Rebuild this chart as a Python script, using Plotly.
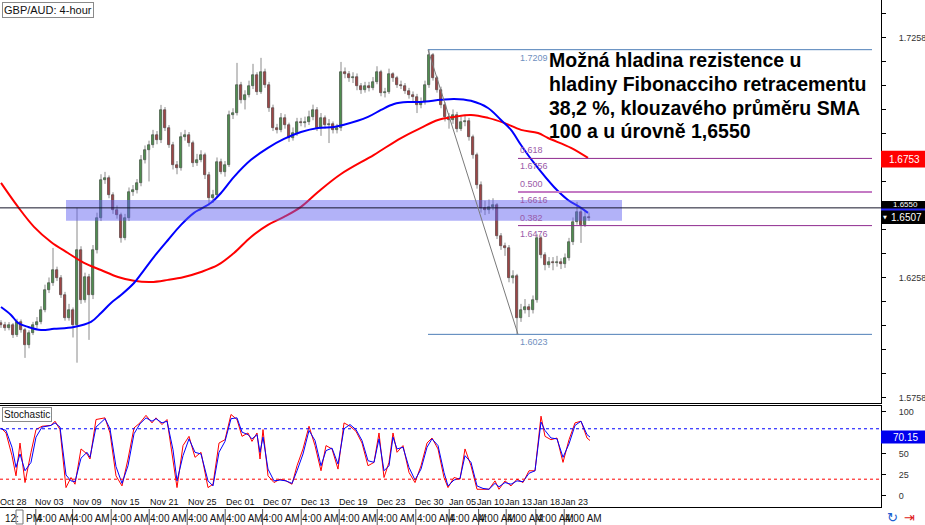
import plotly.graph_objects as go

# ---------------- data ----------------
first_open = 1.6070
closes = [1.6062, 1.6050, 1.6062, 1.6021, 1.6075, 1.6041, 1.5979, 1.6029, 1.6062, 1.6075,
          1.6125, 1.6208, 1.6237, 1.6291, 1.6258, 1.6187, 1.6091, 1.6125, 1.6062, 1.6375,
          1.6166, 1.6262, 1.6187, 1.6375, 1.6508, 1.6666, 1.6675, 1.6604, 1.6541, 1.6521,
          1.6425, 1.6508, 1.6616, 1.6625, 1.6654, 1.6750, 1.6791, 1.6812, 1.6854, 1.6833,
          1.6958, 1.6883, 1.6812, 1.6729, 1.6716, 1.6845, 1.6854, 1.6820, 1.6737, 1.6750,
          1.6770, 1.6687, 1.6591, 1.6604, 1.6741, 1.6700, 1.6729, 1.6937, 1.6945, 1.7062,
          1.7000, 1.7020, 1.7058, 1.7104, 1.7033, 1.7116, 1.7062, 1.6966, 1.6883, 1.6875,
          1.6925, 1.6896, 1.6841, 1.6862, 1.6908, 1.6904, 1.6908, 1.6929, 1.6958, 1.6883,
          1.6925, 1.6896, 1.6900, 1.6875, 1.6883, 1.7116, 1.7108, 1.7091, 1.7096, 1.7058,
          1.7041, 1.7058, 1.7050, 1.7075, 1.7116, 1.7029, 1.7033, 1.7108, 1.7091, 1.7062,
          1.7058, 1.7037, 1.7020, 1.7012, 1.6979, 1.6991, 1.7062, 1.7187, 1.7091, 1.7041,
          1.6979, 1.6929, 1.6916, 1.6937, 1.6879, 1.6908, 1.6912, 1.6845, 1.6770, 1.6646,
          1.6550, 1.6541, 1.6554, 1.6562, 1.6433, 1.6391, 1.6383, 1.6258, 1.6265, 1.6091,
          1.6125, 1.6137, 1.6125, 1.6166, 1.6425, 1.6354, 1.6312, 1.6325, 1.6320, 1.6325,
          1.6316, 1.6341, 1.6408, 1.6491, 1.6533, 1.6479, 1.6512, 1.6508]
highs = [1.6082, 1.6075, 1.6074, 1.6070, 1.6088, 1.6085, 1.6050, 1.6040, 1.6075, 1.6095,
         1.6140, 1.6230, 1.6260, 1.6383, 1.6305, 1.6270, 1.6200, 1.6150, 1.6135, 1.6550,
         1.6390, 1.6280, 1.6275, 1.6395, 1.6530, 1.6690, 1.6700, 1.6685, 1.6615, 1.6560,
         1.6530, 1.6525, 1.6635, 1.6645, 1.6670, 1.6770, 1.6810, 1.6830, 1.6875, 1.6870,
         1.6979, 1.6970, 1.6895, 1.6825, 1.6745, 1.6865, 1.6875, 1.6866, 1.6830, 1.6775,
         1.6790, 1.6780, 1.6700, 1.6625, 1.6760, 1.6755, 1.6745, 1.6955, 1.6965, 1.7154,
         1.7075, 1.7040, 1.7080, 1.7150, 1.7115, 1.7175, 1.7130, 1.7075, 1.6980, 1.6900,
         1.6945, 1.6940, 1.6905, 1.6885, 1.6925, 1.6925, 1.6930, 1.6955, 1.6980, 1.6970,
         1.6945, 1.6935, 1.6920, 1.6910, 1.6900, 1.7158, 1.7135, 1.7120, 1.7115, 1.7110,
         1.7070, 1.7075, 1.7075, 1.7095, 1.7140, 1.7125, 1.7050, 1.7130, 1.7115, 1.7100,
         1.7080, 1.7070, 1.7050, 1.7035, 1.7025, 1.7010, 1.7080, 1.7209, 1.7195, 1.7100,
         1.7055, 1.6990, 1.6945, 1.6960, 1.6950, 1.6930, 1.6935, 1.6925, 1.6855, 1.6780,
         1.6660, 1.6580, 1.6585, 1.6590, 1.6570, 1.6445, 1.6405, 1.6395, 1.6290, 1.6275,
         1.6150, 1.6170, 1.6150, 1.6185, 1.6440, 1.6435, 1.6365, 1.6345, 1.6345, 1.6350,
         1.6340, 1.6360, 1.6425, 1.6510, 1.6575, 1.6545, 1.6540, 1.6530]
lows = [1.6050, 1.6038, 1.6040, 1.6008, 1.6012, 1.6030, 1.5925, 1.5965, 1.6020, 1.6050,
        1.6065, 1.6115, 1.6195, 1.6225, 1.6245, 1.6175, 1.6080, 1.6080, 1.6010, 1.5905,
        1.6150, 1.6155, 1.6000, 1.6170, 1.6360, 1.6495, 1.6650, 1.6590, 1.6525, 1.6505,
        1.6405, 1.6415, 1.6495, 1.6600, 1.6610, 1.6640, 1.6735, 1.6660, 1.6800, 1.6815,
        1.6820, 1.6870, 1.6800, 1.6710, 1.6690, 1.6705, 1.6830, 1.6805, 1.6720, 1.6725,
        1.6740, 1.6670, 1.6560, 1.6570, 1.6595, 1.6690, 1.6680, 1.6720, 1.6920, 1.6935,
        1.6985, 1.6960, 1.7010, 1.7045, 1.7020, 1.7025, 1.7050, 1.6950, 1.6870, 1.6860,
        1.6865, 1.6880, 1.6825, 1.6830, 1.6850, 1.6890, 1.6885, 1.6895, 1.6915, 1.6870,
        1.6850, 1.6880, 1.6820, 1.6860, 1.6860, 1.6870, 1.7090, 1.7075, 1.7070, 1.7040,
        1.7025, 1.7030, 1.7035, 1.7040, 1.7065, 1.7015, 1.7010, 1.7025, 1.7075, 1.7050,
        1.7045, 1.7025, 1.7005, 1.6995, 1.6945, 1.6965, 1.6980, 1.7050, 1.7080, 1.7030,
        1.6965, 1.6910, 1.6880, 1.6900, 1.6865, 1.6870, 1.6890, 1.6830, 1.6755, 1.6630,
        1.6530, 1.6520, 1.6525, 1.6540, 1.6420, 1.6375, 1.6350, 1.6240, 1.6235, 1.6023,
        1.6075, 1.6110, 1.6095, 1.6110, 1.6155, 1.6340, 1.6290, 1.6300, 1.6290, 1.6305,
        1.6295, 1.6300, 1.6330, 1.6395, 1.6480, 1.6404, 1.6470, 1.6495]

sma100_bar = [0, 2.5, 4.25, 6.75, 10, 13.25, 18.25, 22.5, 25, 27.5, 30, 33.25, 35.75, 38.25,
              41.75, 45, 48.25, 50, 52.5, 55, 58.25, 62.5, 66.75, 70.75, 75, 79.25, 83.25,
              85.75, 91.75, 95, 98.25, 101.75, 105, 110, 113.25, 117.5, 121.75, 125, 127.5,
              130, 133.25, 138.25, 141.75, 145, 146.75]
sma100_val = [1.6137, 1.6104, 1.6071, 1.6054, 1.6041, 1.6046, 1.6054, 1.6075, 1.6112, 1.6154,
              1.6187, 1.6237, 1.6291, 1.6346, 1.6416, 1.6479, 1.6529, 1.6546, 1.6571, 1.6612,
              1.6679, 1.6750, 1.6800, 1.6837, 1.6866, 1.6883, 1.6887, 1.6896, 1.6929, 1.6958,
              1.6983, 1.6991, 1.6991, 1.7000, 1.7004, 1.6996, 1.6966, 1.6916, 1.6875, 1.6812,
              1.6737, 1.6637, 1.6583, 1.6550, 1.6529]
sma200_bar = [0, 4.25, 8.25, 12.5, 16.75, 20.75, 25, 29.25, 33.25, 37.5, 41.75, 45.75, 50,
              54.25, 58.25, 62.5, 66.75, 70.75, 75, 79.25, 85, 93.25, 100, 105, 109.25,
              113.25, 117.5, 121.75, 125.75, 130, 134.25, 136.75, 142.5, 146.75]
sma200_val = [1.6654, 1.6554, 1.6471, 1.6408, 1.6362, 1.6321, 1.6291, 1.6262, 1.6246, 1.6241,
              1.6250, 1.6262, 1.6283, 1.6312, 1.6362, 1.6429, 1.6479, 1.6512, 1.6554, 1.6616,
              1.6691, 1.6771, 1.6841, 1.6883, 1.6916, 1.6929, 1.6937, 1.6925, 1.6904, 1.6875,
              1.6862, 1.6841, 1.6800, 1.6758]

stoch_bar = [0, 1.25, 2.75, 3.75, 4.75, 6, 7.5, 8.75, 10.25, 12.5, 13.5, 14.75, 16.25, 17.5,
             18.5, 20, 21.5, 22.25, 23.75, 26, 27.25, 28.75, 30.25, 31.75, 33.25, 34.75,
             36.25, 37.75, 38.75, 40.25, 41.5, 43, 44, 45.5, 47, 48.5, 50, 51.75, 53, 54.5,
             56, 57.5, 59, 60.25, 61.75, 62.75, 64, 64.75, 65.5, 66.75, 68.25, 69.75, 71.25,
             72.75, 74, 75.5, 77, 78.5, 80, 81.25, 82.75, 84.25, 85.75, 87.25, 88.75, 90.25,
             91.75, 93.25, 94.5, 95.75, 97, 98, 99, 100.5, 102, 103.5, 105, 106.5, 107.75,
             109.25, 110.75, 111.75, 113.25, 114.75, 116, 117.5, 119, 120.5, 122, 123.5,
             124.5, 126, 127.5, 129, 130.5, 132, 133.5, 135, 136, 137.5, 139, 140.5, 142,
             143.5, 145, 146.5, 147.25]
stoch_main = [81, 75, 48, 24, 63, 16, 52, 79, 83, 84, 89, 79, 10, 22, 14, 56, 50, 44, 91, 93,
              75, 24, 12, 44, 81, 87, 96, 87, 93, 85, 91, 44, 10, 60, 71, 46, 52, 10, 14, 63,
              67, 97, 91, 71, 75, 65, 75, 44, 79, 24, 16, 20, 18, 14, 36, 56, 83, 60, 30, 60,
              56, 32, 87, 83, 77, 63, 36, 40, 75, 22, 40, 75, 52, 60, 28, 16, 36, 63, 69, 56,
              22, 10, 22, 20, 56, 36, 8, 8, 8, 18, 8, 18, 12, 20, 16, 30, 30, 95, 71, 67,
              69, 40, 67, 87, 89, 69, 66]
stoch_signal = [80, 78, 58, 34, 50, 30, 40, 70, 82, 84, 87, 82, 25, 18, 17, 45, 52, 46, 82, 92,
                80, 35, 15, 36, 74, 86, 93, 89, 92, 87, 89, 55, 18, 48, 68, 52, 50, 18, 12, 52,
                65, 92, 93, 76, 73, 68, 73, 52, 70, 32, 18, 19, 18, 15, 30, 50, 78, 66, 36, 54,
                57, 38, 80, 85, 79, 66, 42, 40, 68, 30, 36, 70, 56, 58, 34, 19, 32, 58, 68, 60,
                28, 12, 19, 21, 48, 40, 12, 9, 8, 15, 11, 16, 14, 18, 17, 27, 30, 88, 78, 69,
                68, 46, 62, 84, 89, 73, 70.15]

date_labels = ["Oct 28", "Nov 03", "Nov 09", "Nov 15", "Nov 21", "Nov 25", "Dec 01", "Dec 07",
               "Dec 13", "Dec 19", "Dec 23", "Dec 30", "Jan 05", "Jan 10", "Jan 13", "Jan 18",
               "Jan 23"]
date_pos = [3, 12, 21.5, 31, 40.75, 50.25, 59.75, 69, 78.5, 88, 97.5, 107, 115.25, 122.25,
            129.25, 136.25, 143.25]
hour_pos = [8.9, 18.1, 27.75, 37.25, 46.75, 56.25, 65.6, 75.25, 84.75, 94.25, 103.9, 112.25,
            119.6, 126.5, 133.9, 141]
hour_label = "4:00 AM"

price_ticks = [1.5758, 1.5858, 1.5958, 1.6058, 1.6158, 1.6258, 1.6358, 1.6458, 1.6558,
               1.6658, 1.6758, 1.6858, 1.6958, 1.7058, 1.7158, 1.7258, 1.7358]
price_tick_text = ["1.5758", "", "", "", "", "1.6258", "", "", "", "", "", "", "", "", "",
                   "1.7258", ""]

fib_high, fib_low = 1.7209, 1.6023
fib_high_bar, fib_low_bar = 107, 129.25
fib_ratio = ["0.618", "0.500", "0.382"]
fib_price = [1.6756, 1.6616, 1.6476]
resistance = 1.6550
zone_top, zone_bottom = 1.6583, 1.6496
zone_bar0, zone_bar1 = 16.25, 155.25
last_price = 1.6507
sma200_last = 1.6753
stoch_last = 70.15

note_lines = ["Možná hladina rezistence u",
              "hladiny Fibonacciho retracementu",
              "38,2 %, klouzavého průměru SMA",
              "100 a u úrovně 1,6550"]

# ---------------- figure ----------------
W, H = 925, 525
PX = 881 / W  # right edge of plotting panels (paper)
FONT = "Liberation Sans, Arial, DejaVu Sans"

def py(p):  # pixel row -> paper y
    return 1 - p / H

fig = go.Figure()

n = len(closes)
bars = list(range(n))
opens = [first_open] + closes[:-1]

# wicks
wx, wy = [], []
for i in bars:
    wx += [i, i, None]
    wy += [lows[i], highs[i], None]
fig.add_trace(go.Scatter(x=wx, y=wy, mode="lines", line=dict(color="#8a8a8a", width=1),
                         hoverinfo="skip", showlegend=False))

# bodies
base = [min(o, c) for o, c in zip(opens, closes)]
hgt = [max(abs(c - o), 0.00025) for o, c in zip(opens, closes)]
col = ["#17a317" if c >= o else "#c80000" for o, c in zip(opens, closes)]
fig.add_trace(go.Bar(x=bars, y=hgt, base=base, width=0.7,
                     marker=dict(color=col, line=dict(color="#000000", width=0.6)),
                     showlegend=False, hoverinfo="skip"))

# moving averages
fig.add_trace(go.Scatter(x=sma200_bar, y=sma200_val, mode="lines",
                         line=dict(color="#ff0000", width=2, shape="spline"), showlegend=False))
fig.add_trace(go.Scatter(x=sma100_bar, y=sma100_val, mode="lines",
                         line=dict(color="#0000ff", width=2, shape="spline"), showlegend=False))

# stochastic
fig.add_trace(go.Scatter(x=stoch_bar, y=stoch_main, mode="lines", xaxis="x2", yaxis="y2",
                         line=dict(color="#ff0000", width=1), showlegend=False))
fig.add_trace(go.Scatter(x=stoch_bar, y=stoch_signal, mode="lines", xaxis="x2", yaxis="y2",
                         line=dict(color="#0000ff", width=1), showlegend=False))

shapes = []
# resistance zone
shapes.append(dict(type="rect", xref="x", yref="y", x0=zone_bar0, x1=zone_bar1,
                   y0=zone_bottom, y1=zone_top, fillcolor="rgba(95,95,240,0.48)",
                   line=dict(width=0), layer="above"))
# 1.6550 line
shapes.append(dict(type="line", xref="x domain", yref="y", x0=0, x1=1, y0=resistance,
                   y1=resistance, line=dict(color="#15152a", width=1), layer="above"))
# fib lines
fib_end = 217.75
shapes.append(dict(type="line", xref="x", yref="y", x0=fib_high_bar - 0.25, x1=fib_end,
                   y0=fib_high, y1=fib_high, line=dict(color="#4f7fb8", width=1)))
shapes.append(dict(type="line", xref="x", yref="y", x0=fib_high_bar - 0.25, x1=fib_end,
                   y0=fib_low, y1=fib_low, line=dict(color="#4f7fb8", width=1)))
fib_cols = ["#8e2a8e", "#c47ac4", "#8e2a8e"]
fib_w = [1, 2, 1]
for p, c, w in zip(fib_price, fib_cols, fib_w):
    shapes.append(dict(type="line", xref="x", yref="y", x0=fib_low_bar, x1=fib_end,
                       y0=p, y1=p, line=dict(color=c, width=w)))
# fib trendline
shapes.append(dict(type="line", xref="x", yref="y", x0=fib_high_bar - 0.25, y0=fib_high,
                   x1=fib_low_bar, y1=fib_low, line=dict(color="#7a7a7a", width=1)))
# stochastic levels
shapes.append(dict(type="line", xref="x2 domain", yref="y2", x0=0, x1=1, y0=80, y1=80,
                   line=dict(color="#0000ff", width=1, dash="dot")))
shapes.append(dict(type="line", xref="x2 domain", yref="y2", x0=0, x1=1, y0=20, y1=20,
                   line=dict(color="#ff0000", width=1, dash="dot")))
# right-side price labels
shapes.append(dict(type="rect", xref="paper", yref="y", x0=PX, x1=1,
                   y0=sma200_last - 0.0035, y1=sma200_last + 0.0035,
                   fillcolor="#ff0000", line=dict(width=0), layer="above"))
shapes.append(dict(type="rect", xref="paper", yref="paper", x0=PX, x1=1,
                   y0=py(224), y1=py(201), fillcolor="#000000", line=dict(width=0),
                   layer="above"))
shapes.append(dict(type="line", xref="paper", yref="paper", x0=PX, x1=1,
                   y0=py(209.5), y1=py(209.5), line=dict(color="#2a2aff", width=2),
                   layer="above"))
shapes.append(dict(type="rect", xref="paper", yref="y2", x0=PX, x1=1,
                   y0=stoch_last - 7.8, y1=stoch_last + 7.8,
                   fillcolor="#0000ee", line=dict(width=0), layer="above"))
# bottom time row separators
for hp in hour_pos:
    shapes.append(dict(type="line", xref="x", yref="paper", x0=hp - 0.2, x1=hp - 0.2,
                       y0=py(525), y1=py(509), line=dict(color="#555555", width=1)))
shapes.append(dict(type="rect", xref="paper", yref="paper", x0=16 / W, x1=23 / W,
                   y0=py(524), y1=py(510), line=dict(color="#777777", width=1),
                   fillcolor="white"))

ann = []
def A(**kw):
    kw.setdefault("showarrow", False)
    kw.setdefault("xanchor", "center")
    kw.setdefault("yanchor", "middle")
    ann.append(kw)

# title boxes
A(xref="paper", yref="paper", x=2 / W, y=py(2), xanchor="left", yanchor="top",
  text="GBP/AUD: 4-hour", bgcolor="white", bordercolor="#8a8a8a", borderwidth=1,
  borderpad=1, font=dict(family=FONT, size=11, color="#111111"))
A(xref="paper", yref="paper", x=2 / W, y=py(407), xanchor="left", yanchor="top",
  text="Stochastic", bgcolor="white", bordercolor="#8a8a8a", borderwidth=1, borderpad=1,
  font=dict(family=FONT, size=10, color="#111111"))
# main note
for k, t in enumerate(note_lines):
    A(xref="paper", yref="paper", x=547 / W, y=py(60 + 23.8 * k), xanchor="left",
      text="<b>" + t + "</b>", font=dict(family=FONT, size=19.5, color="#000000"))
# fib labels
lab = dict(family=FONT, size=9)
A(xref="x", yref="y", x=fib_low_bar, y=fib_high, xanchor="left", yanchor="top",
  text="1.7209", yshift=-1, font=dict(lab, color="#6f8fc0"))
A(xref="x", yref="y", x=fib_low_bar, y=fib_low, xanchor="left", yanchor="top",
  text="1.6023", yshift=-1, font=dict(lab, color="#6f8fc0"))
for r, p in zip(fib_ratio, fib_price):
    A(xref="x", yref="y", x=fib_low_bar, y=p, xanchor="left", yanchor="bottom", text=r,
      yshift=1, font=dict(lab, color="#9a5aa8"))
    A(xref="x", yref="y", x=fib_low_bar, y=p, xanchor="left", yanchor="top",
      text="%.4f" % p, yshift=-1, font=dict(lab, color="#9a5aa8"))
# right labels
A(xref="paper", yref="y", x=904 / W, y=sma200_last, text="%.4f" % sma200_last,
  font=dict(family=FONT, size=10, color="white"))
A(xref="paper", yref="paper", x=905 / W, y=py(204), text="%.4f" % resistance,
  font=dict(family=FONT, size=8, color="white"))
A(xref="paper", yref="paper", x=906 / W, y=py(218), text="%.4f" % last_price,
  font=dict(family=FONT, size=10, color="white"))
A(xref="paper", yref="paper", x=885 / W, y=py(217), text="▼",
  font=dict(family="DejaVu Sans", size=5, color="white"))
A(xref="paper", yref="y2", x=905 / W, y=stoch_last, text="%.2f" % stoch_last,
  font=dict(family=FONT, size=10, color="white"))
# date labels
for d, pos in zip(date_labels, date_pos):
    A(xref="x", yref="paper", x=pos, y=py(502), text=d,
      font=dict(family=FONT, size=9, color="#111111"))
# hour labels
A(xref="paper", yref="paper", x=3 / W, y=py(518), xanchor="left", text="12:",
  font=dict(family=FONT, size=10, color="#111111"))
A(xref="paper", yref="paper", x=24 / W, y=py(518), xanchor="left", text="PM",
  font=dict(family=FONT, size=10, color="#111111"))
for hp in hour_pos:
    A(xref="x", yref="paper", x=hp, y=py(518), xanchor="left", text=hour_label, xshift=-2,
      font=dict(family=FONT, size=10, color="#111111"))
# icons
A(xref="paper", yref="paper", x=892 / W, y=py(517), text="↻",
  font=dict(family="DejaVu Sans", size=13, color="#2060d0"))
A(xref="paper", yref="paper", x=909 / W, y=py(517), text="⇥",
  font=dict(family="DejaVu Sans", size=13, color="#e02020"))

axis_common = dict(showgrid=False, zeroline=False, showline=True, linecolor="#000000",
                   linewidth=1, mirror=True, automargin=False)

fig.update_layout(
    width=W, height=H, margin=dict(l=0, r=0, t=0, b=0, pad=0, autoexpand=False),
    paper_bgcolor="white", plot_bgcolor="white", barmode="overlay", bargap=0,
    showlegend=False, hovermode=False,
    xaxis=dict(axis_common, domain=[0, PX], range=[-0.25, 220], showticklabels=False,
               ticks="", anchor="y"),
    yaxis=dict(axis_common, domain=[1 - 403 / H, 1], range=[1.5737, 1.7416], side="right",
               tickvals=price_ticks, ticktext=price_tick_text, ticks="outside", ticklen=4,
               tickcolor="#000000", ticklabelstandoff=11,
               tickfont=dict(family=FONT, size=9, color="#333333"), anchor="x"),
    xaxis2=dict(axis_common, domain=[0, PX], range=[-0.25, 220], showticklabels=False,
                ticks="", anchor="y2", matches="x"),
    yaxis2=dict(axis_common, domain=[1 - 507 / H, 1 - 406 / H], range=[-13.1, 107.1],
                side="right", tickvals=[0, 25, 50, 75, 100],
                ticktext=["0", "25", "50", "", "100"], ticks="outside", ticklen=4,
                tickcolor="#000000", ticklabelstandoff=11,
                tickfont=dict(family=FONT, size=9, color="#333333"), anchor="x2"),
    shapes=shapes, annotations=ann,
)

fig.write_html("out.html", config={"displayModeBar": False},
               post_script="document.body.style.margin='0';document.body.style.overflow='hidden';")
